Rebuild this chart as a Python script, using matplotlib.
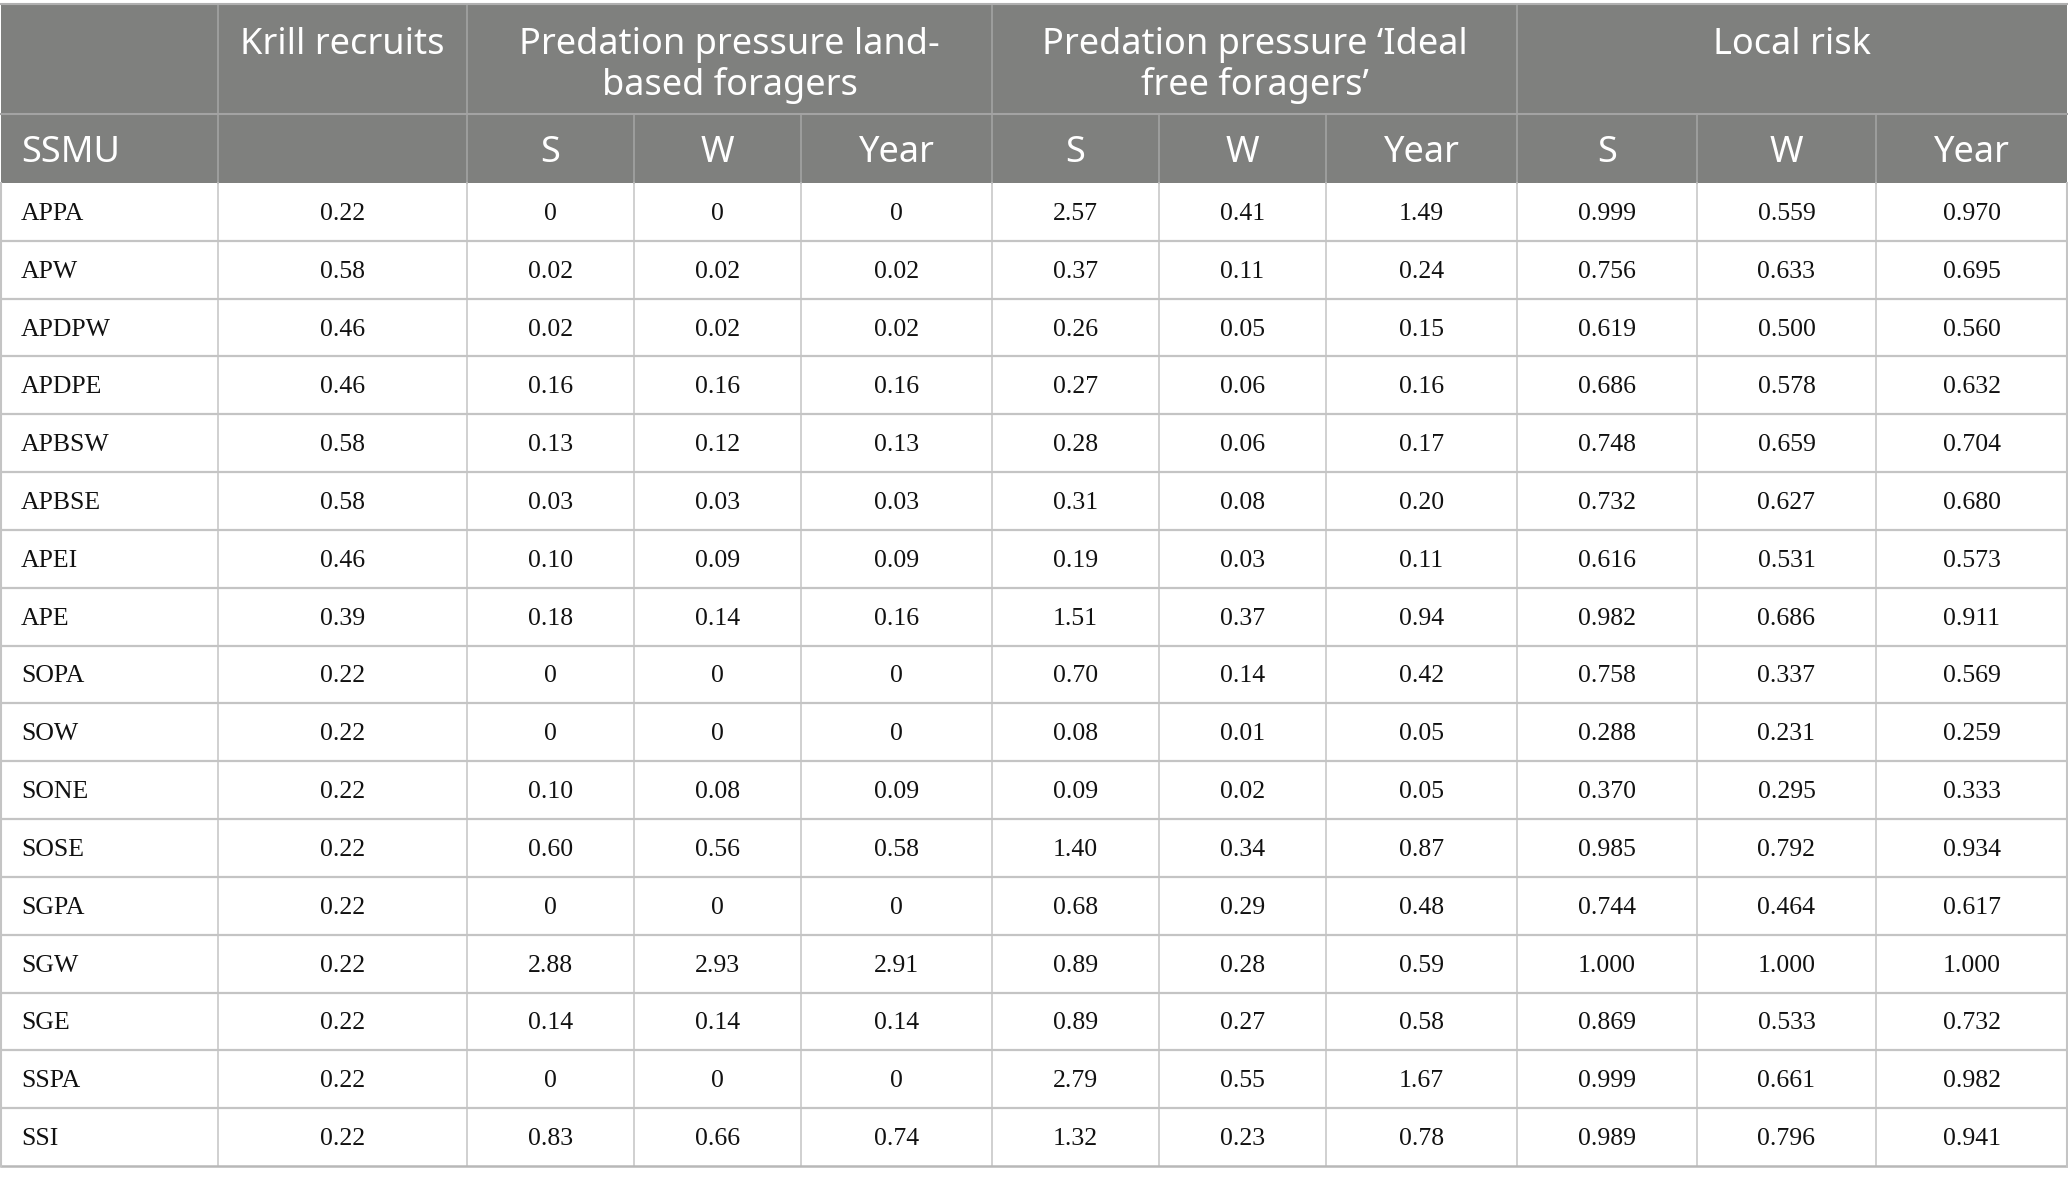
import matplotlib
matplotlib.use("Agg")
import matplotlib.pyplot as plt
from matplotlib.patches import Rectangle

ssmu = ["APPA", "APW", "APDPW", "APDPE", "APBSW", "APBSE", "APEI", "APE",
        "SOPA", "SOW", "SONE", "SOSE", "SGPA", "SGW", "SGE", "SSPA", "SSI"]
krill = ["0.22", "0.58", "0.46", "0.46", "0.58", "0.58", "0.46", "0.39",
         "0.22", "0.22", "0.22", "0.22", "0.22", "0.22", "0.22", "0.22", "0.22"]
land_s = ["0", "0.02", "0.02", "0.16", "0.13", "0.03", "0.10", "0.18",
          "0", "0", "0.10", "0.60", "0", "2.88", "0.14", "0", "0.83"]
land_w = ["0", "0.02", "0.02", "0.16", "0.12", "0.03", "0.09", "0.14",
          "0", "0", "0.08", "0.56", "0", "2.93", "0.14", "0", "0.66"]
land_y = ["0", "0.02", "0.02", "0.16", "0.13", "0.03", "0.09", "0.16",
          "0", "0", "0.09", "0.58", "0", "2.91", "0.14", "0", "0.74"]
free_s = ["2.57", "0.37", "0.26", "0.27", "0.28", "0.31", "0.19", "1.51",
          "0.70", "0.08", "0.09", "1.40", "0.68", "0.89", "0.89", "2.79", "1.32"]
free_w = ["0.41", "0.11", "0.05", "0.06", "0.06", "0.08", "0.03", "0.37",
          "0.14", "0.01", "0.02", "0.34", "0.29", "0.28", "0.27", "0.55", "0.23"]
free_y = ["1.49", "0.24", "0.15", "0.16", "0.17", "0.20", "0.11", "0.94",
          "0.42", "0.05", "0.05", "0.87", "0.48", "0.59", "0.58", "1.67", "0.78"]
risk_s = ["0.999", "0.756", "0.619", "0.686", "0.748", "0.732", "0.616", "0.982",
          "0.758", "0.288", "0.370", "0.985", "0.744", "1.000", "0.869", "0.999", "0.989"]
risk_w = ["0.559", "0.633", "0.500", "0.578", "0.659", "0.627", "0.531", "0.686",
          "0.337", "0.231", "0.295", "0.792", "0.464", "1.000", "0.533", "0.661", "0.796"]
risk_y = ["0.970", "0.695", "0.560", "0.632", "0.704", "0.680", "0.573", "0.911",
          "0.569", "0.259", "0.333", "0.934", "0.617", "1.000", "0.732", "0.982", "0.941"]

group_headers = ["", "Krill recruits", "Predation pressure land-\nbased foragers",
                 "Predation pressure \u2018Ideal\nfree foragers\u2019", "Local risk"]
group_spans = [1, 1, 3, 3, 3]
sub_headers = ["SSMU", "", "S", "W", "Year", "S", "W", "Year", "S", "W", "Year"]

columns = [ssmu, krill, land_s, land_w, land_y, free_s, free_w, free_y,
           risk_s, risk_w, risk_y]

W, H = 2068, 1185
fig = plt.figure(figsize=(W / 100, H / 100), dpi=100)
ax = fig.add_axes([0, 0, 1, 1])
ax.set_xlim(0, W)
ax.set_ylim(H, 0)
ax.axis("off")

edges = [1, 218, 467, 634, 801, 992, 1159, 1326, 1517, 1697, 1876, 2067]
top, h1, h2, bottom = 4, 114, 183, 1166
nrows = len(ssmu)
rh = (bottom - h2) / nrows

hdr_col = "#7f807e"
hdr_line = "#a3a3a3"
body_line = "#c4c4c4"
sans = ["Noto Sans", "DejaVu Sans"]
serif = ["Liberation Serif", "DejaVu Serif"]
hfs = 26

# header background
ax.add_patch(Rectangle((edges[0], top), edges[-1] - edges[0], h2 - top,
                       facecolor=hdr_col, edgecolor="none"))

# header row 1
ci = 0
for label, span in zip(group_headers, group_spans):
    x0, x1 = edges[ci], edges[ci + span]
    if label:
        ax.text((x0 + x1) / 2, 27, label, ha="center", va="top",
                fontsize=hfs, color="white", family=sans, linespacing=1.13)
    ci += span
ci = 0
for span in group_spans[:-1]:
    ci += span
    ax.plot([edges[ci], edges[ci]], [top, h1], color=hdr_line, lw=1.2)
ax.plot([edges[0], edges[-1]], [h1, h1], color=hdr_line, lw=1.5)

# header row 2
for i, label in enumerate(sub_headers):
    x0, x1 = edges[i], edges[i + 1]
    if not label:
        continue
    if i == 0:
        ax.text(x0 + 20, (h1 + h2) / 2 + 4, label, ha="left", va="center",
                fontsize=hfs, color="white", family=sans)
    else:
        ax.text((x0 + x1) / 2, (h1 + h2) / 2 + 4, label, ha="center", va="center",
                fontsize=hfs, color="white", family=sans)
for e in edges[1:-1]:
    ax.plot([e, e], [h1, h2], color=hdr_line, lw=1.2)

# body
for r in range(nrows):
    yc = h2 + (r + 0.5) * rh
    for c, col in enumerate(columns):
        if c == 0:
            ax.text(edges[0] + 20, yc + 2, col[r], ha="left", va="center",
                    fontsize=18.5, color="#111111", family=serif)
        else:
            ax.text((edges[c] + edges[c + 1]) / 2, yc + 2, col[r], ha="center",
                    va="center", fontsize=18.5, color="#111111", family=serif)
    if r > 0:
        y = h2 + r * rh
        ax.plot([edges[0], edges[-1]], [y, y], color=body_line, lw=1.6)

for e in edges[1:-1]:
    ax.plot([e, e], [h2, bottom], color=body_line, lw=1.1)

# outer border
ax.plot([edges[0], edges[-1]], [top, top], color="#b0b0b0", lw=1.5)
ax.plot([edges[0], edges[-1]], [bottom, bottom], color="#b8b8b8", lw=1.8)
ax.plot([edges[0], edges[0]], [h2, bottom], color=body_line, lw=1.5)
ax.plot([edges[-1], edges[-1]], [h2, bottom], color=body_line, lw=1.5)

fig.savefig("out.png", dpi=100, facecolor="white")
